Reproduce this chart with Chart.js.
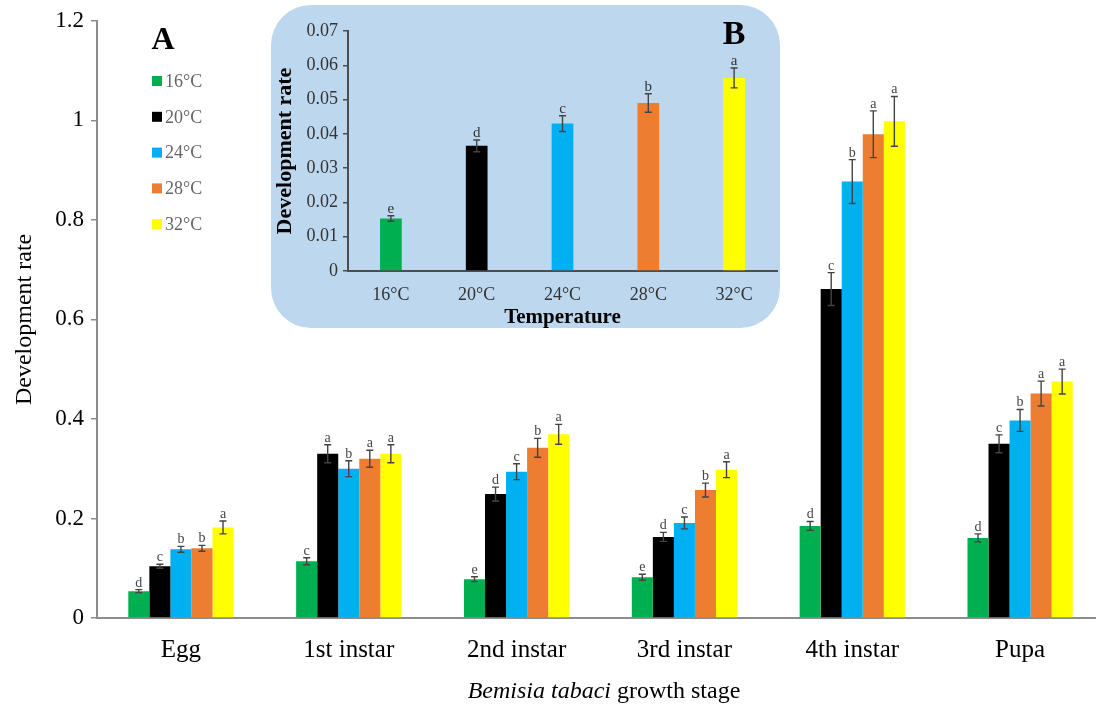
<!DOCTYPE html>
<html><head><meta charset="utf-8">
<script src="https://cdn.jsdelivr.net/npm/chart.js@4.4.0/dist/chart.umd.min.js"></script>
<style>
html,body{margin:0;padding:0;background:#fff;overflow:hidden;width:1096px;height:708px;}
#main{position:absolute;left:0;top:0;}
#insetBox{position:absolute;left:271px;top:5px;width:509px;height:323px;border-radius:40px;background:#bdd7ee;overflow:hidden;}
#inset{position:absolute;left:0;top:0;}
</style></head><body>
<canvas id="main" width="1104" height="708"></canvas>
<div id="insetBox"><canvas id="inset" width="509" height="323"></canvas></div>
<script>
// ---------- Data (panel A) ----------
const stages = ['Egg', '1st instar', '2nd instar', '3rd instar', '4th instar', 'Pupa'];
const temps = ['16°C', '20°C', '24°C', '28°C', '32°C'];
const colors = ['#00b050', '#000000', '#00b0f0', '#ed7d31', '#ffff00'];
const yTicksA = [0, 0.2, 0.4, 0.6, 0.8, 1, 1.2];

const rate16 = [0.054, 0.114, 0.078, 0.082, 0.185, 0.161];
const rate20 = [0.104, 0.330, 0.249, 0.163, 0.661, 0.350];
const rate24 = [0.138, 0.300, 0.294, 0.191, 0.877, 0.397];
const rate28 = [0.140, 0.320, 0.342, 0.257, 0.972, 0.451];
const rate32 = [0.182, 0.330, 0.369, 0.298, 0.998, 0.475];

const err16 = [0.003, 0.007, 0.005, 0.006, 0.009, 0.008];
const err20 = [0.004, 0.018, 0.014, 0.009, 0.033, 0.018];
const err24 = [0.006, 0.016, 0.016, 0.012, 0.044, 0.022];
const err28 = [0.006, 0.017, 0.019, 0.014, 0.047, 0.025];
const err32 = [0.013, 0.018, 0.020, 0.016, 0.050, 0.025];

const sig16 = ['d', 'c', 'e', 'e', 'd', 'd'];
const sig20 = ['c', 'a', 'd', 'd', 'c', 'c'];
const sig24 = ['b', 'b', 'c', 'c', 'b', 'b'];
const sig28 = ['b', 'a', 'b', 'b', 'a', 'a'];
const sig32 = ['a', 'a', 'a', 'a', 'a', 'a'];

// ---------- Data (panel B) ----------
const insetRate = [0.0153, 0.0365, 0.0430, 0.0490, 0.0563];
const insetErr = [0.0008, 0.0017, 0.0023, 0.0027, 0.0029];
const insetSig = ['e', 'd', 'c', 'b', 'a'];
const yTicksB = [0, 0.01, 0.02, 0.03, 0.04, 0.05, 0.06, 0.07];

const SERIF = "'Liberation Serif', 'Times New Roman', serif";

const errorBarPlugin = {
  id: 'errbars',
  afterDatasetsDraw(chart, args, opts) {
    const ctx = chart.ctx; const ys = chart.scales.y;
    chart.data.datasets.forEach((ds, i) => {
      const meta = chart.getDatasetMeta(i);
      meta.data.forEach((bar, j) => {
        const v = ds.data[j], e = ds.errors[j];
        const x = bar.x;
        const yt = ys.getPixelForValue(v + e), yb = ys.getPixelForValue(v - e);
        ctx.save();
        ctx.strokeStyle = opts.color; ctx.lineWidth = opts.width;
        ctx.beginPath();
        ctx.moveTo(x, yt); ctx.lineTo(x, yb);
        ctx.moveTo(x - opts.cap, yt); ctx.lineTo(x + opts.cap, yt);
        ctx.moveTo(x - opts.cap, yb); ctx.lineTo(x + opts.cap, yb);
        ctx.stroke();
        ctx.fillStyle = opts.letterColor; ctx.font = opts.font;
        ctx.textAlign = 'center'; ctx.textBaseline = 'alphabetic';
        ctx.fillText(ds.letters[j], x, yt - 3);
        ctx.restore();
      });
    });
  }
};

const decorA = {
  id: 'decorA',
  afterDraw(chart) {
    const ctx = chart.ctx;
    ctx.save();
    // panel letter
    ctx.fillStyle = '#000'; ctx.font = 'bold 32px ' + SERIF;
    ctx.textAlign = 'center'; ctx.textBaseline = 'middle';
    ctx.fillText('A', 163, 41);
    // legend
    ctx.font = '18px ' + SERIF; ctx.textAlign = 'left';
    chart.data.datasets.forEach((ds, i) => {
      const cy = 81 + i * 35.8;
      ctx.fillStyle = ds.backgroundColor;
      ctx.fillRect(152, cy - 5, 10, 10);
      ctx.fillStyle = '#666666';
      ctx.fillText(ds.label, 165, cy + 1);
    });
    // x-axis title with italic species name
    const p1 = 'Bemisia tabaci', p2 = ' growth stage';
    ctx.fillStyle = '#000'; ctx.textBaseline = 'middle';
    ctx.font = 'italic 24px ' + SERIF; const w1 = ctx.measureText(p1).width;
    ctx.font = '24px ' + SERIF; const w2 = ctx.measureText(p2).width;
    let x0 = 604 - (w1 + w2) / 2;
    ctx.font = 'italic 24px ' + SERIF; ctx.fillText(p1, x0, 692);
    ctx.font = '24px ' + SERIF; ctx.fillText(p2, x0 + w1, 692);
    ctx.restore();
  }
};

const rates = [rate16, rate20, rate24, rate28, rate32];
const errs = [err16, err20, err24, err28, err32];
const sigs = [sig16, sig20, sig24, sig28, sig32];

new Chart(document.getElementById('main'), {
  type: 'bar',
  data: {
    labels: stages,
    datasets: temps.map((t, i) => ({
      label: t, data: rates[i], errors: errs[i], letters: sigs[i],
      backgroundColor: colors[i], borderWidth: 0,
      barPercentage: 1.0, categoryPercentage: 0.627
    }))
  },
  options: {
    responsive: false, animation: false, devicePixelRatio: 1,
    layout: { padding: { top: 16, right: 0, bottom: 0, left: 0 } },
    plugins: {
      legend: { display: false }, tooltip: { enabled: false },
      errbars: { color: '#444444', width: 1.4, cap: 3.5, letterColor: '#444444', font: '14px ' + SERIF }
    },
    scales: {
      x: {
        afterFit: s => { s.height = 90; },
        grid: { display: true, drawOnChartArea: false, drawTicks: false },
        border: { display: true, color: '#8c8c8c', width: 2 },
        ticks: { color: '#000', font: { family: SERIF, size: 25 }, padding: 17, maxRotation: 0 }
      },
      y: {
        min: 0, max: 1.2,
        afterBuildTicks: s => { s.ticks = yTicksA.map(v => ({ value: v })); },
        afterFit: s => { s.width = 97; },
        grid: { display: true, drawOnChartArea: false, drawTicks: true, tickLength: 6, color: '#8c8c8c', lineWidth: 1.5 },
        border: { display: true, color: '#8c8c8c', width: 2 },
        ticks: { color: '#000', font: { family: SERIF, size: 23 }, padding: 7, callback: v => String(v) },
        title: { display: true, text: 'Development rate', color: '#000', font: { family: SERIF, size: 24 }, padding: { top: 10, bottom: 0 } }
      }
    }
  },
  plugins: [errorBarPlugin, decorA]
});

const decorB = {
  id: 'decorB',
  afterDraw(chart) {
    const ctx = chart.ctx;
    ctx.save();
    ctx.fillStyle = '#000'; ctx.font = 'bold 34px ' + SERIF;
    ctx.textAlign = 'center'; ctx.textBaseline = 'middle';
    ctx.fillText('B', 463, 30);
    ctx.restore();
  }
};

new Chart(document.getElementById('inset'), {
  type: 'bar',
  data: {
    labels: temps,
    datasets: [{
      label: 'Development rate', data: insetRate, errors: insetErr, letters: insetSig,
      backgroundColor: colors, borderWidth: 0, barPercentage: 1.0, categoryPercentage: 0.253
    }]
  },
  options: {
    responsive: false, animation: false, devicePixelRatio: 1,
    layout: { padding: { top: 26, right: 3, bottom: 0, left: 0 } },
    plugins: {
      legend: { display: false }, tooltip: { enabled: false },
      errbars: { color: '#444444', width: 1.4, cap: 3.5, letterColor: '#333333', font: '15px ' + SERIF }
    },
    scales: {
      x: {
        afterFit: s => { s.height = 57; },
        grid: { display: true, drawOnChartArea: false, drawTicks: false },
        border: { display: true, color: '#4d4d4d', width: 2 },
        ticks: { color: '#333', font: { family: SERIF, size: 18 }, padding: 13, maxRotation: 0 },
        title: { display: true, text: 'Temperature', color: '#000', font: { family: SERIF, size: 21, weight: 'bold', lineHeight: 1 }, padding: { top: 0, bottom: 0 } }
      },
      y: {
        min: 0, max: 0.07,
        afterBuildTicks: s => { s.ticks = yTicksB.map(v => ({ value: v })); },
        afterFit: s => { s.width = 77; },
        grid: { display: true, drawOnChartArea: false, drawTicks: true, tickLength: 5, color: '#4d4d4d', lineWidth: 1.5 },
        border: { display: true, color: '#4d4d4d', width: 2 },
        ticks: { color: '#333', font: { family: SERIF, size: 18 }, padding: 5,
          callback: v => (v === 0 ? '0' : v.toFixed(2)) },
        title: { display: true, text: 'Development rate', color: '#000', font: { family: SERIF, size: 22, weight: 'bold' }, padding: { top: 1, bottom: 0 } }
      }
    }
  },
  plugins: [errorBarPlugin, decorB]
});
</script>
</body></html>
